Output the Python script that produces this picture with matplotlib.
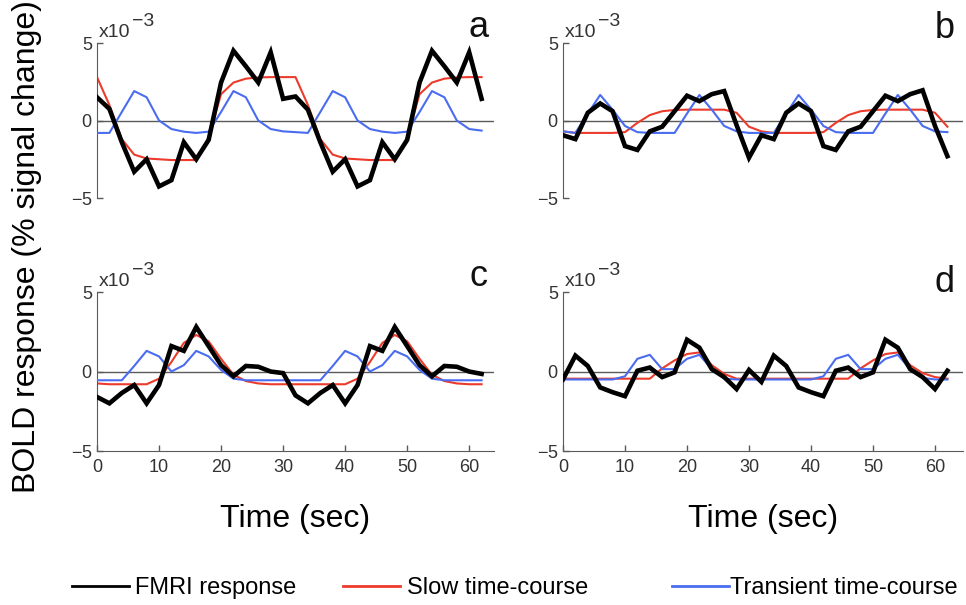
import numpy as np
import matplotlib
matplotlib.use("Agg")
import matplotlib.pyplot as plt
from matplotlib.ticker import ScalarFormatter
from matplotlib.lines import Line2D

plt.rcParams["font.family"] = ["Liberation Sans", "DejaVu Sans"]

# sampling times (sec), one sample every 2 s
time = np.arange(0, 64, 2)

# values in units of 1e-3 (% signal change)
fmri_a = [1.5, 0.75, -1.4, -3.3, -2.5, -4.25, -3.85, -1.4, -2.5, -1.25, 2.45, 4.5, 3.5, 2.45, 4.4, 1.4,
          1.55, 0.7, -1.4, -3.3, -2.5, -4.25, -3.85, -1.4, -2.5, -1.25, 2.45, 4.5, 3.5, 2.45, 4.4, 1.4]
slow_a = [2.8, 1.0, -1.2, -2.2, -2.45, -2.5, -2.55, -2.55, -2.55, -1.1, 1.7, 2.45, 2.7, 2.78, 2.8, 2.8,
          2.8, 1.0, -1.2, -2.2, -2.45, -2.5, -2.55, -2.55, -2.55, -1.1, 1.7, 2.45, 2.7, 2.78, 2.8, 2.8]
trans_a = [-0.8, -0.8, 0.55, 1.9, 1.5, 0.0, -0.55, -0.72, -0.8, -0.72, 0.55, 1.9, 1.5, 0.0, -0.55, -0.7,
           -0.75, -0.8, 0.55, 1.9, 1.5, 0.0, -0.55, -0.72, -0.8, -0.72, 0.55, 1.9, 1.5, 0.0, -0.55, -0.65]

fmri_b = [-0.95, -1.2, 0.5, 1.1, 0.6, -1.65, -1.9, -0.7, -0.4, 0.6, 1.6, 1.25, 1.7, 1.9, -0.3, -2.4,
          -0.95, -1.2, 0.5, 1.1, 0.6, -1.65, -1.9, -0.7, -0.4, 0.6, 1.6, 1.25, 1.7, 1.95, -0.35, -2.3]
slow_b = [-0.7, -0.8, -0.8, -0.8, -0.8, -0.75, -0.15, 0.35, 0.6, 0.68, 0.7, 0.7, 0.7, 0.7, 0.5, -0.4,
          -0.7, -0.8, -0.8, -0.8, -0.8, -0.75, -0.15, 0.35, 0.6, 0.68, 0.7, 0.7, 0.7, 0.7, 0.5, -0.4]
trans_b = [-0.7, -0.8, 0.45, 1.65, 0.7, -0.35, -0.75, -0.8, -0.8, -0.8, 0.45, 1.65, 0.7, -0.35, -0.7, -0.8,
           -0.8, -0.8, 0.45, 1.65, 0.7, -0.35, -0.75, -0.8, -0.8, -0.8, 0.45, 1.65, 0.7, -0.35, -0.7, -0.75]

fmri_c = [-1.6, -2.0, -1.35, -0.85, -2.0, -0.85, 1.6, 1.3, 2.8, 1.6, 0.4, -0.3, 0.35, 0.3, 0.0, -0.1,
          -1.5, -2.0, -1.35, -0.85, -2.0, -0.85, 1.6, 1.3, 2.8, 1.6, 0.4, -0.3, 0.35, 0.3, 0.0, -0.15]
slow_c = [-0.75, -0.8, -0.8, -0.8, -0.8, -0.45, 0.6, 1.8, 2.3, 1.9, 0.8, -0.2, -0.6, -0.75, -0.8, -0.8,
          -0.8, -0.8, -0.8, -0.8, -0.8, -0.45, 0.6, 1.8, 2.3, 1.9, 0.8, -0.2, -0.6, -0.75, -0.8, -0.8]
trans_c = [-0.55, -0.55, -0.55, 0.35, 1.3, 0.95, 0.0, 0.4, 1.3, 0.95, 0.1, -0.45, -0.55, -0.55, -0.55, -0.55,
           -0.55, -0.55, -0.55, 0.35, 1.3, 0.95, 0.0, 0.4, 1.3, 0.95, 0.1, -0.45, -0.55, -0.55, -0.55, -0.55]

fmri_d = [-0.5, 1.0, 0.35, -1.0, -1.3, -1.55, 0.05, 0.25, -0.35, -0.05, 2.0, 1.5, 0.15, -0.35, -1.1, 0.1,
          -0.65, 1.0, 0.35, -1.0, -1.3, -1.55, 0.05, 0.25, -0.35, -0.05, 2.0, 1.5, 0.15, -0.35, -1.1, 0.05]
slow_d = [-0.45, -0.45, -0.45, -0.45, -0.45, -0.45, -0.45, -0.45, 0.2, 0.7, 1.1, 1.2, 0.4, -0.15, -0.45, -0.45,
          -0.45, -0.45, -0.45, -0.45, -0.45, -0.45, -0.45, -0.45, 0.2, 0.7, 1.1, 1.2, 0.4, -0.1, -0.35, -0.45]
trans_d = [-0.5, -0.5, -0.5, -0.5, -0.5, -0.3, 0.8, 1.05, 0.15, 0.15, 0.8, 1.05, 0.15, -0.45, -0.5, -0.5,
           -0.5, -0.5, -0.5, -0.5, -0.5, -0.3, 0.8, 1.05, 0.15, 0.15, 0.8, 1.05, 0.15, -0.4, -0.5, -0.5]

panels = ["a", "b", "c", "d"]
fmri = [fmri_a, fmri_b, fmri_c, fmri_d]
slow = [slow_a, slow_b, slow_c, slow_d]
trans = [trans_a, trans_b, trans_c, trans_d]

black = "#000000"
red = "#ec3b2b"
blue = "#4a6cf0"
grey = "#5a5a5a"

fig = plt.figure(figsize=(9.66, 6.05), dpi=100)

positions = [
    [0.1004, 0.6727, 0.411, 0.2562],
    [0.5828, 0.6727, 0.414, 0.2562],
    [0.1004, 0.2545, 0.411, 0.2628],
    [0.5828, 0.2545, 0.414, 0.2628],
]
xmax = [64, 64.5, 64, 64.5]
letter_pos = [(0.96, 1.04), (0.955, 1.03), (0.96, 1.04), (0.953, 1.0)]

for i, p in enumerate(panels):
    ax = fig.add_axes(positions[i])
    ax.axhline(0, color=grey, lw=1.0, zorder=1)
    ax.plot(time, np.array(slow[i]) * 1e-3, color=red, lw=1.5, zorder=2)
    ax.plot(time, np.array(trans[i]) * 1e-3, color=blue, lw=1.5, zorder=3)
    ax.plot(time, np.array(fmri[i]) * 1e-3, color=black, lw=3.3, zorder=4,
            solid_joinstyle="miter")

    ax.set_xlim(0, xmax[i])
    ax.set_ylim(-5e-3, 5e-3)
    ax.set_yticks([-5e-3, 0, 5e-3])
    fmt = ScalarFormatter(useMathText=True)
    fmt.set_scientific(True)
    fmt.set_powerlimits((0, 0))
    ax.yaxis.set_major_formatter(fmt)
    ax.yaxis.get_offset_text().set_visible(False)
    # exponent drawn by hand so base and superscript have the same size
    ax.annotate("x10", xy=(0, 1), xycoords="axes fraction", xytext=(1.5, 4),
                textcoords="offset points", fontsize=14, color="#333333",
                ha="left", va="baseline")
    ax.annotate("\u22123", xy=(0, 1), xycoords="axes fraction", xytext=(25, 12),
                textcoords="offset points", fontsize=14, color="#333333",
                ha="left", va="baseline")

    for s in ["top", "right"]:
        ax.spines[s].set_visible(False)
    ax.spines["left"].set_color(grey)
    ax.spines["bottom"].set_color(grey)
    ax.tick_params(axis="both", direction="in", length=4, width=1, colors=grey,
                   labelcolor="#333333", labelsize=13, pad=3)
    ax.tick_params(axis="x", pad=6)

    if i < 2:
        ax.spines["bottom"].set_visible(False)
        ax.set_xticks([])
    else:
        ax.set_xticks([0, 10, 20, 30, 40, 50, 60])
        ax.set_xlabel("Time (sec)", fontsize=23, labelpad=20)

    ax.text(letter_pos[i][0], letter_pos[i][1], p, transform=ax.transAxes,
            fontsize=26, ha="center", va="baseline", color="#111111")

fig.text(0.028, 0.592, "BOLD response (% signal change)", rotation=90,
         fontsize=23, ha="center", va="center")

# legend, one entry at a time so the gaps match
legend_items = [("FMRI response", black, 0.0745, 0.25),
                ("Slow time-course", red, 0.355, 0.3),
                ("Transient time-course", blue, 0.696, 0.05)]
for label, col, x0, tpad in legend_items:
    h = Line2D([], [], color=col, lw=2)
    fig.legend(handles=[h], labels=[label], loc="center left",
               bbox_to_anchor=(x0, 0.028), frameon=False, fontsize=17,
               handlelength=2.4, handletextpad=tpad, borderpad=0,
               borderaxespad=0)

fig.savefig("out.png", dpi=100)
